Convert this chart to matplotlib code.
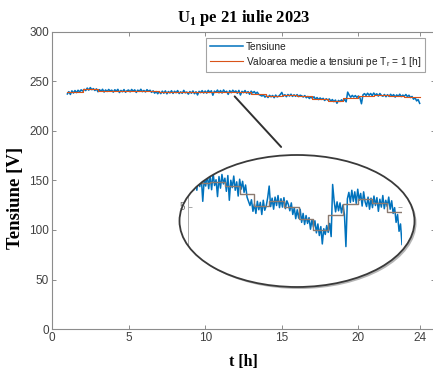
#!/usr/bin/env python3
""" Tensiunea U1 pe 21 iulie 2023, cu media orara si detaliu in elipsa.
"""
import numpy as np
import matplotlib
matplotlib.use('Agg')
import matplotlib.pyplot as plt
from matplotlib.patches import Ellipse

# tensiunea masurata, un punct la 0.1 h, de la t = 1.0 la t = 24.0
voltage = [
    237.4, 239.8, 236.9, 240.6, 238.3, 240.9, 238.7, 241.2, 239.4, 241.6,
    240.3, 242.1, 240.8, 243.4, 241.2, 243.9, 241.7, 242.8, 240.9, 242.6,
    239.6, 241.8, 240.1, 242.2, 239.3, 241.5, 239.9, 242.0, 240.4, 241.3,
    239.2, 241.7, 240.3, 242.1, 238.8, 241.0, 239.6, 241.9, 239.1, 240.8,
    241.4, 239.5, 242.0, 240.2, 241.6, 238.9, 241.3, 240.0, 242.2, 239.7,
    241.0, 239.4, 241.8, 240.1, 241.2, 239.0, 240.6, 238.2, 239.9, 237.6,
    239.8, 237.7, 240.3, 238.1, 240.6, 237.5, 239.9, 238.4, 240.7, 237.9,
    240.2, 238.6, 240.9, 237.8, 239.6, 238.0, 241.1, 238.5, 239.4, 237.2,
    239.9, 238.1, 240.5, 237.6, 239.7, 236.4, 240.1, 238.7, 240.8, 238.3,
    240.4, 238.2, 241.1, 238.9, 240.7, 236.1, 240.3, 239.0, 241.4, 238.5,
    240.9, 238.3, 241.5, 239.1, 240.2, 237.0, 240.8, 238.6, 241.2, 239.4,
    240.5, 238.0, 241.0, 236.3, 240.1, 238.7, 240.9, 238.2, 239.8, 237.1,
    240.3, 238.4, 239.9, 237.8, 239.2, 236.9, 236.1, 235.3, 236.4, 234.2,
    235.6, 233.8, 236.1, 234.5, 235.9, 233.6, 236.3, 234.4, 235.2, 236.8,
    239.0, 235.1, 236.7, 234.6, 236.9, 235.3, 237.2, 234.9, 236.6, 235.0,
    236.8, 234.7, 236.2, 235.5, 234.3, 235.8, 233.6, 234.9, 232.8, 234.5,
    232.9, 234.6, 232.1, 233.8, 231.7, 233.4, 231.9, 233.0, 230.8, 232.6,
    231.2, 232.4, 230.1, 231.8, 229.6, 231.3, 228.0, 230.9, 229.8, 231.5,
    230.2, 231.9, 229.4, 239.3, 236.2, 234.1, 236.0, 234.3, 235.8, 233.9,
    235.4, 233.6, 227.5, 236.6, 237.8, 235.9, 238.2, 236.1, 237.9, 235.7,
    238.4, 236.3, 237.6, 235.2, 237.9, 236.0, 235.1, 236.9, 234.6, 236.7,
    234.9, 237.1, 235.3, 236.8, 234.2, 236.5, 235.0, 237.2, 234.7, 236.3,
    235.1, 236.9, 234.6, 236.2, 233.8, 234.9, 232.1, 233.6, 230.4, 231.8,
    227.9,
]
t_start = 1.0
t_step = 0.1

# media pe fiecare ora (T_r = 1 h); ultimul punct inchide treapta la 24 h
hour_start = [1, 2, 3, 4, 5, 6, 7, 8, 9, 10, 11, 12, 13, 14, 15, 16, 17, 18,
              19, 20, 21, 22, 23, 24]
hour_mean = [239.3, 242.0, 240.8, 240.4, 240.7, 240.0, 239.1, 239.1, 239.0,
             239.5, 239.7, 239.1, 237.5, 235.2, 236.1, 235.0, 232.7, 230.7,
             233.5, 235.5, 236.5, 235.8, 234.0, 234.0]

x_ticks = [0, 5, 10, 15, 20, 24]
y_ticks = [0, 50, 100, 150, 200, 250, 300]

BLUE = '#0072BD'
ORANGE = '#D95319'
GRID = '#8c8c8c'
TXT = '#404040'

plt.rcParams['font.family'] = ['Liberation Sans', 'DejaVu Sans']
plt.rcParams['mathtext.fontset'] = 'custom'
plt.rcParams['mathtext.rm'] = 'Liberation Sans'
plt.rcParams['mathtext.bf'] = 'Liberation Serif:bold'

t = t_start + t_step * np.arange(len(voltage))

W, H = 433, 376
fig = plt.figure(figsize=(W / 100, H / 100), dpi=100)
ax = fig.add_axes([52 / W, 1 - 329 / H, 383 / W, 297 / H])

ax.plot(t, voltage, color=BLUE, lw=1.1, label='Tensiune')
ax.step(hour_start, hour_mean, where='post', color=ORANGE, lw=0.8,
        label=r'Valoarea medie a tensiuni pe T$_{\mathrm{r}}$ = 1 [h]')

ax.set_xlim(0, 25)
ax.set_ylim(0, 300)
ax.set_xticks(x_ticks)
ax.set_yticks(y_ticks)
ax.tick_params(direction='in', top=True, right=True, length=3, width=0.7,
               colors=GRID, labelcolor=TXT, labelsize=8.5, pad=2)
for s in ax.spines.values():
    s.set_color(GRID)
    s.set_linewidth(0.8)

ax.set_title(r'U$_{\mathbf{1}}$ pe 21 iulie 2023', family='Liberation Serif',
             fontweight='bold', fontsize=12, pad=7)
ax.set_xlabel('t [h]', family='Liberation Serif', fontweight='bold',
              fontsize=11.5, labelpad=7)
ax.set_ylabel('Tensiune [V]', family='Liberation Serif', fontweight='bold',
              fontsize=13.5)
ax.yaxis.set_label_coords(-0.072, 0.44)

leg = ax.legend(loc='upper right', bbox_to_anchor=(373 / 383, 1 - 6 / 297),
                fontsize=7.3, frameon=True, fancybox=False, handlelength=3.3,
                borderpad=0.35, labelspacing=0.3, handletextpad=0.25,
                borderaxespad=0)
leg.get_frame().set_edgecolor(GRID)
leg.get_frame().set_linewidth(0.8)
for txt in leg.get_texts():
    txt.set_color('#202020')

# sageata catre detaliu
ax.annotate('', xy=(11.8, 237), xycoords='data',
            xytext=(283 / W, 1 - 149 / H), textcoords='figure fraction',
            arrowprops=dict(arrowstyle='-', color='#303030', lw=1.4),
            annotation_clip=False)

# elipsa cu detaliu
ecx, ecy, ew, eh = 297 / W, 1 - 221 / H, 235 / W, 132 / H
shadow = Ellipse((ecx + 2 / W, ecy - 2 / H), ew, eh, transform=fig.transFigure,
                 facecolor='#b5b5b5', edgecolor='none', zorder=2)
fig.add_artist(shadow)
ell = Ellipse((ecx, ecy), ew, eh, transform=fig.transFigure,
              facecolor='white', edgecolor='none', zorder=2.1)
fig.add_artist(ell)
clip = Ellipse((ecx, ecy), ew, eh, transform=fig.transFigure,
               facecolor='none', edgecolor='none')

ins = fig.add_axes([188 / W, 1 - 265 / H, 214 / W, 100 / H])
ins.set_zorder(3)
ins.patch.set_visible(False)
l1, = ins.plot(t, voltage, color=BLUE, lw=1.1)
l2, = ins.step(hour_start, hour_mean, where='post', color='#8a7a70', lw=1.0)
ins.set_xlim(9.5, 24.0)
ins.set_ylim(224, 243)
ins.set_xticks([])
ins.set_yticks([235])
ins.tick_params(direction='in', right=True, length=3, width=0.6,
                colors='#999999', labelleft=False)
for side in ['top', 'bottom']:
    ins.spines[side].set_visible(False)
for side in ['left', 'right']:
    ins.spines[side].set_color('#aaaaaa')
    ins.spines[side].set_linewidth(0.7)
    ins.spines[side].set_clip_path(clip)
for art in [l1, l2]:
    art.set_clip_path(clip)
# doar ultima cifra a etichetei 235 ramane in elipsa
ins.text(-0.015, 235, '5', transform=ins.get_yaxis_transform(),
         ha='right', va='center', fontsize=7, color='#777777')

fig.add_artist(Ellipse((ecx, ecy), ew, eh, transform=fig.transFigure,
                       facecolor='none', edgecolor='#3a3a3a', lw=1.3, zorder=4))

fig.savefig('out.png', dpi=100)
